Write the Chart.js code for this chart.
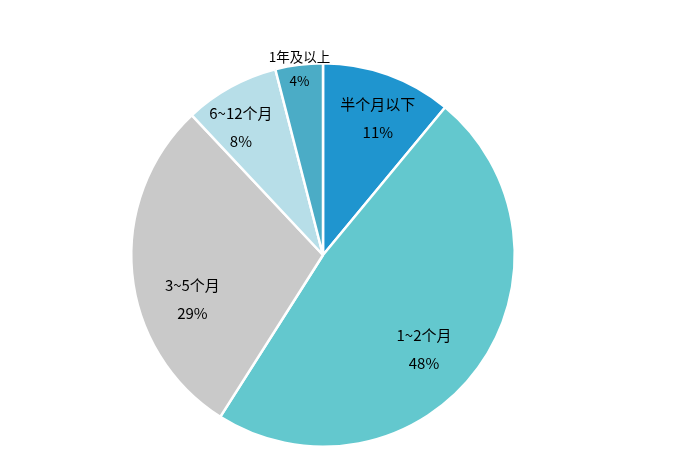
<!DOCTYPE html>
<html>
<head>
<meta charset="utf-8">
<script src="https://cdn.jsdelivr.net/npm/chart.js@4"></script>
<style>
  html, body { margin: 0; padding: 0; background: #fff; }
  #wrap { width: 674px; height: 463px; }
</style>
</head>
<body>
<div id="wrap"><canvas id="myChartPie"></canvas></div>
<script>
// datos del grafico
var categories = ["半个月以下", "1~2个月", "3~5个月", "6~12个月", "1年及以上"];
var values = [11, 48, 29, 8, 4];
var colors = ["#1f95cf", "#63c8ce", "#c9c9c9", "#b7dee8", "#4bacc6"];

// posicion de etiquetas: fraccion del radio y desplazamiento angular (grados)
var labelPlace = [
  { r: 0.77, shift: 2, size: 15, gap: 28 },
  { r: 0.72, shift: 7, size: 15, gap: 28 },
  { r: 0.72, shift: -13.5, size: 15, gap: 28 },
  { r: 0.79, shift: -4, size: 15, gap: 28 },
  { r: 0.98, shift: 0, size: 13.5, gap: 24 },
];

var sliceLabels = {
  id: "sliceLabels",
  afterDatasetsDraw: function (chart) {
    var ctx = chart.ctx;
    var meta = chart.getDatasetMeta(0);
    ctx.save();
    ctx.fillStyle = "#000";
    ctx.textAlign = "center";
    ctx.textBaseline = "middle";
    meta.data.forEach(function (arc, i) {
      var p = arc.getProps(["x", "y", "startAngle", "endAngle", "outerRadius"], true);
      var lp = labelPlace[i];
      var mid = (p.startAngle + p.endAngle) / 2 + lp.shift * Math.PI / 180;
      var cx = p.x + Math.cos(mid) * p.outerRadius * lp.r;
      var cy = p.y + Math.sin(mid) * p.outerRadius * lp.r;
      ctx.font = lp.size + 'px "Noto Sans CJK SC", "Noto Sans", sans-serif';
      ctx.fillText(categories[i], cx, cy - lp.gap / 2);
      ctx.fillText(values[i] + "%", cx, cy + lp.gap / 2);
    });
    ctx.restore();
  },
};

var chPie = document.getElementById("myChartPie").getContext("2d");

var myChartPie = new Chart(chPie, {
  type: "pie",
  plugins: [sliceLabels],
  options: {
    responsive: true,
    maintainAspectRatio: false,
    animation: false,
    layout: {
      padding: { top: 62, bottom: 15, left: 0, right: 28 },
    },
    plugins: {
      legend: { display: false },
      tooltip: { enabled: false },
    },
  },
  data: {
    labels: categories,
    datasets: [
      {
        data: values,
        backgroundColor: colors,
        borderColor: "#ffffff",
        borderWidth: 2.5,
        hoverOffset: 0,
      },
    ],
  },
});
</script>
</body>
</html>
